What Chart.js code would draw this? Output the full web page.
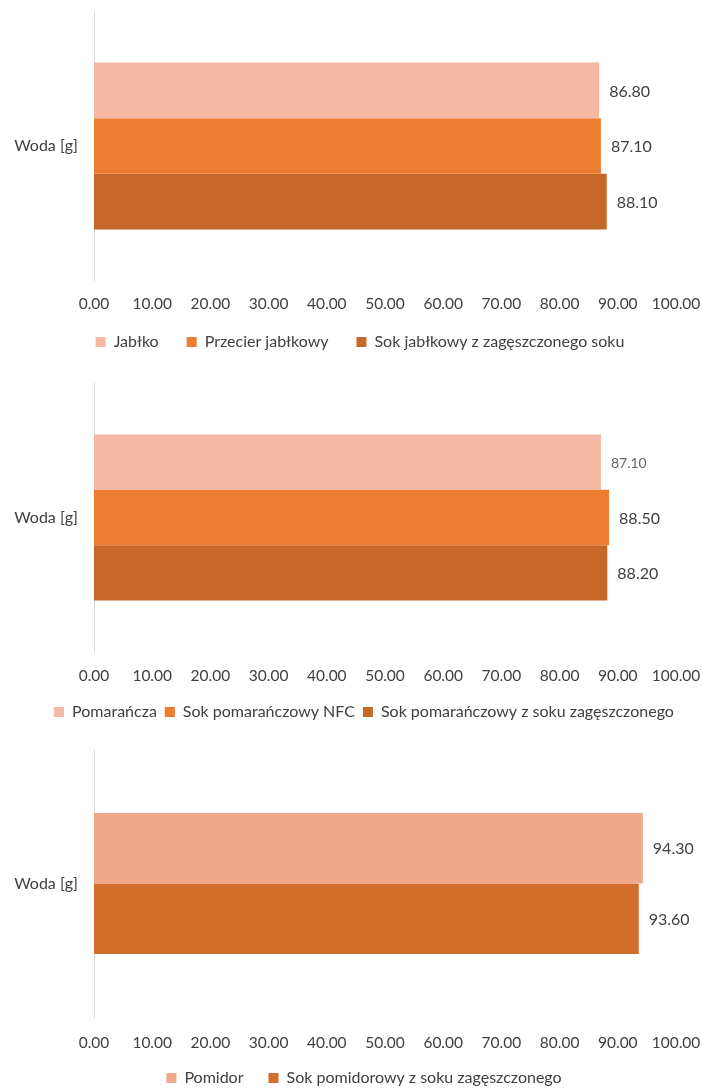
<!DOCTYPE html>
<html lang="pl">
<head>
<meta charset="utf-8">
<title>Woda [g]</title>
<script src="https://cdn.jsdelivr.net/npm/chart.js@4.4.1/dist/chart.umd.min.js"></script>
<style>
  html, body { margin: 0; padding: 0; background: #ffffff; }
  #page { position: relative; width: 702px; height: 1088px; overflow: hidden; }
  canvas { position: absolute; left: 0; display: block; }
</style>
</head>
<body>
<div id="page">
  <canvas id="c1" width="702" height="420" style="top:0px"></canvas>
  <canvas id="c2" width="702" height="420" style="top:360px"></canvas>
  <canvas id="c3" width="702" height="420" style="top:730px"></canvas>
</div>
<script>
// Category shared by all three panels
const categories = ['Woda [g]'];

// X axis range and tick step
const axisMin = 0;
const axisMax = 100;
const axisStep = 10;

// Panel 1: apple products
const appleNames = ['Jabłko', 'Przecier jabłkowy', 'Sok jabłkowy z zagęszczonego soku'];
const appleWater = [86.80, 87.10, 88.10];

// Panel 2: orange products
const orangeNames = ['Pomarańcza', 'Sok pomarańczowy NFC', 'Sok pomarańczowy z soku zagęszczonego'];
const orangeWater = [87.10, 88.50, 88.20];

// Panel 3: tomato products
const tomatoNames = ['Pomidor', 'Sok pomidorowy z soku zagęszczonego'];
const tomatoWater = [94.30, 93.60];

// Colours
const appleColors  = ['#F4B8A4', '#ED7D31', '#C46728'];
const orangeColors = ['#F4B8A4', '#ED7D31', '#C46728'];
const tomatoColors = ['#F0A78A', '#D26D2A'];

const FONT = 'Lato, "Open Sans", sans-serif';
const TEXT = '#404040';
const H = 420;          // canvas height of every panel

// Writes each bar's value just past the end of the bar
const valueLabels = {
  id: 'valueLabels',
  afterDatasetsDraw(chart, args, opts) {
    const ctx = chart.ctx;
    ctx.save();
    ctx.textAlign = 'left';
    ctx.textBaseline = 'middle';
    chart.data.datasets.forEach((ds, i) => {
      const meta = chart.getDatasetMeta(i);
      if (meta.hidden) return;
      meta.data.forEach((bar, j) => {
        const v = ds.data[j];
        ctx.fillStyle = (opts.colors && opts.colors[i]) || TEXT;
        ctx.font = ((opts.sizes && opts.sizes[i]) || 16) + 'px ' + FONT;
        ctx.fillText(v.toFixed(2), bar.x + 10, bar.y + 1);
      });
    });
    ctx.restore();
  }
};

// Places the legend row at a fixed centre point below the axis
const legendPlace = {
  id: 'legendPlace',
  afterLayout(chart, args, opts) {
    const lg = chart.legend;
    if (!lg) return;
    const pad = lg.options.labels.padding;
    const fs = lg.options.labels.font.size;
    const dy = opts.y - (lg.top + pad + fs / 2);
    const dx = opts.x - (lg.left + lg.right) / 2;
    lg.top += dy; lg.bottom += dy;
    lg.left += dx; lg.right += dx;
  }
};

function buildPanel(id, names, values, colors, cfg) {
  const datasets = names.map((n, i) => ({
    label: n,
    data: [values[i]],
    backgroundColor: colors[i],
    borderWidth: 0,
    barPercentage: 1.0,
    categoryPercentage: cfg.catPct
  }));
  const tickSize = 15.5;
  const legSize = 16;
  const xH = tickSize * 1.2 + 2 * cfg.tickPad;
  const legH = legSize + cfg.legendPad + 10;
  const bottom = H - cfg.areaBottom - xH - legH;
  return new Chart(document.getElementById(id), {
    type: 'bar',
    data: { labels: categories, datasets },
    plugins: [valueLabels, legendPlace],
    options: {
      indexAxis: 'y',
      responsive: false,
      animation: false,
      layout: { padding: { top: cfg.top, left: 0, right: 26, bottom: bottom } },
      scales: {
        x: {
          min: axisMin,
          max: axisMax,
          border: { display: false },
          grid: { display: false, drawTicks: false },
          ticks: {
            stepSize: axisStep,
            padding: cfg.tickPad,
            color: TEXT,
            font: { family: FONT, size: tickSize },
            maxRotation: 0,
            autoSkip: false,
            callback: v => Number(v).toFixed(2)
          },
          afterFit(scale) { scale.paddingLeft = 0; scale.paddingRight = 0; }
        },
        y: {
          border: { display: true, color: '#D9D9D9', width: 1 },
          grid: { display: false, drawTicks: false },
          ticks: { padding: 16, color: TEXT, font: { family: FONT, size: 16 } },
          afterFit(scale) { scale.width = 94; scale.paddingTop = 0; scale.paddingBottom = 0; }
        }
      },
      plugins: {
        legend: {
          position: 'bottom',
          labels: {
            boxWidth: 10,
            boxHeight: 10,
            padding: cfg.legendPad,
            color: TEXT,
            font: { family: FONT, size: legSize }
          }
        },
        legendPlace: { x: cfg.legendX, y: cfg.legendY },
        tooltip: { enabled: false },
        valueLabels: { colors: cfg.labelColors || [], sizes: cfg.labelSizes || [] }
      }
    }
  });
}

buildPanel('c1', appleNames, appleWater, appleColors,
  { top: 12, areaBottom: 280, tickPad: 15, catPct: 0.623,
    legendPad: 28, legendX: 360, legendY: 342 });
buildPanel('c2', orangeNames, orangeWater, orangeColors,
  { top: 23, areaBottom: 292, tickPad: 15, catPct: 0.617,
    legendPad: 8, legendX: 364, legendY: 352,
    labelColors: ['#666666'], labelSizes: [14] });
buildPanel('c3', tomatoNames, tomatoWater, tomatoColors,
  { top: 19, areaBottom: 288, tickPad: 16, catPct: 0.524,
    legendPad: 25, legendX: 364, legendY: 348 });
</script>
</body>
</html>
